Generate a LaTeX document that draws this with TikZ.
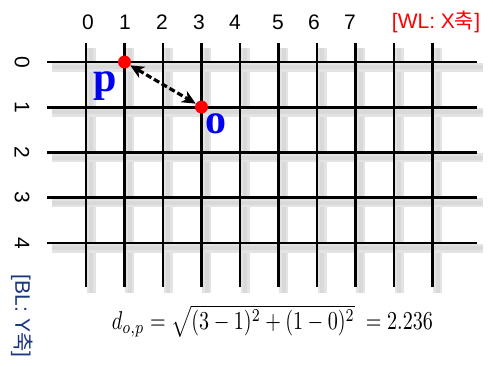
\documentclass[tikz,border=0pt]{standalone}
\usepackage{fontspec}
\setmainfont{Liberation Serif}
\newfontfamily\axfont{Liberation Sans}
\newfontfamily\kr{Noto Sans CJK KR}
\usetikzlibrary{arrows.meta}
\definecolor{navy}{HTML}{1A3480}
\definecolor{ptblue}{HTML}{0000F0}
\begin{document}
\begin{tikzpicture}[x=1pt,y=-1pt,
  gridline/.style={black,line width=2.6pt},
  shadowline/.style={gray!22,line width=9pt},
  shadowcore/.style={gray!30,line width=4pt},
  dot/.style={circle,fill=red,draw=none,minimum size=13pt,inner sep=0pt},
  numlabel/.style={font=\axfont\fontsize{21}{21}\selectfont},
  ptlabel/.style={font=\fontsize{42}{42}\selectfont\bfseries,text=ptblue},
  tipstyle/.style={fill=black,draw=none}]
\useasboundingbox (0,0) rectangle (493,367);
% shadows
\foreach \i in {0,...,9}{
  \draw[shadowline] (86+38.5*\i+5,48) -- (86+38.5*\i+5,293);
  \draw[shadowcore] (86+38.5*\i+5,48) -- (86+38.5*\i+5,293);
}
\foreach \j in {0,...,4}{
  \draw[shadowline] (52,62+45.25*\j+5) -- (483,62+45.25*\j+5);
  \draw[shadowcore] (52,62+45.25*\j+5) -- (483,62+45.25*\j+5);
}
% grid
\foreach \i in {0,...,9}{
  \draw[gridline] (86+38.5*\i,43) -- (86+38.5*\i,287);
}
\foreach \j in {0,...,4}{
  \draw[gridline] (47,62+45.25*\j) -- (477,62+45.25*\j);
}
% column labels
\foreach \x/\t in {88/0,125/1,162/2,199/3,235/4,278/5,314/6,350/7}{
  \node[numlabel] (c\t) at (\x,22) {\t};
}
\node[font=\axfont\fontsize{21}{21}\selectfont,text=red] (wl) at (436,22) {[WL: X{\kr 축}]};
% row labels
\foreach \t in {0,...,4}{
  \node[numlabel,rotate=-90] (r\t) at (22,62+45.25*\t) {\t};
}
\node[font=\axfont\fontsize{21}{21}\selectfont,text=navy,rotate=-90] (bl) at (22,316) {[BL: Y{\kr 축}]};
% points
\node[dot] (p) at (124.5,62) {};
\node[dot] (o) at (201.5,107) {};
\draw[line width=3.2pt,dash pattern=on 6pt off 3pt,
      {Stealth[length=14pt,width=13pt,line width=0pt]}-{Stealth[length=14pt,width=13pt,line width=0pt]}]
      (p) -- (o);
\node[ptlabel] (pl) at (105,86) {p};
\node[ptlabel] (ol) at (216,124) {o};
% formula
\node[inner sep=0pt] (f) at (272.5,321) {\resizebox*{321pt}{32pt}{$d_{o,p}=\sqrt{(3-1)^2+(1-0)^2}\;=2.236$}};
\end{tikzpicture}
\end{document}
